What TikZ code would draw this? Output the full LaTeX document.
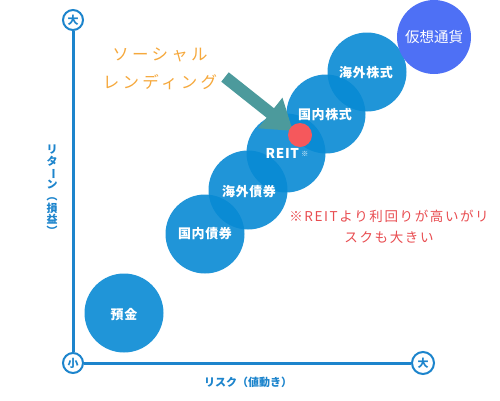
\documentclass[tikz,border=0pt]{standalone}
\usepackage{fontspec}
\setmainfont{Noto Sans CJK JP}
\usetikzlibrary{arrows.meta}
\definecolor{axisblue}{RGB}{28,132,204}
\definecolor{ballblue}{RGB}{8,138,212}
\definecolor{cryptoblue}{RGB}{78,112,245}
\definecolor{arrowteal}{RGB}{76,154,156}
\definecolor{lendorange}{RGB}{245,168,60}
\definecolor{notered}{RGB}{232,76,80}
\definecolor{dotred}{RGB}{245,88,92}
\newcommand{\vchar}[1]{\rotatebox[origin=c]{-90}{#1}}
\begin{document}
\begin{tikzpicture}[x=1pt,y=-1pt,
  ball/.style={circle, fill=ballblue, fill opacity=0.9, minimum size=79pt, inner sep=0pt},
  lbl/.style={text=white, inner sep=0pt, font=\bfseries\fontsize{13}{14}\selectfont\addfontfeature{LetterSpace=5}},
  axcirc/.style={circle, draw=axisblue, line width=2pt, fill=white, minimum size=20pt, inner sep=0pt,
    text=axisblue, font=\bfseries\fontsize{11}{12}\selectfont},
  axline/.style={draw=axisblue, line width=3pt},
  axlabel/.style={text=axisblue, inner sep=0pt, font=\bfseries\fontsize{11}{11.7}\selectfont}
]
\useasboundingbox (0,0) rectangle (500,400);

% axes
\node[axcirc] (ytop) at (73,20) {大};
\node[axcirc] (orig) at (73,363) {小};
\node[axcirc, minimum size=22pt] (xr) at (423,363) {大};
\draw[axline] (ytop) -- (orig);
\draw[axline] (orig) -- (xr);
\node[axlabel, align=center] (ylab) at (52,191) {リ\\タ\\\vchar{ー}\\ン\\\vchar{（}\\損\\益\\\vchar{）}};
\node[axlabel] (xlab) at (248,382) {リスク（値動き）};

% bubbles
\node[ball] (c1) at (124,313) {};
\node[ball] (c2) at (205,234) {};
\node[ball] (c3) at (248,190) {};
\node[ball] (c4) at (286,153) {};
\node[ball] (c5) at (326,114) {};
\node[ball] (c6) at (367,72) {};
\node[circle, fill=cryptoblue, minimum size=74pt, inner sep=0pt] (c7) at (434,37) {};

% arrow and dot
\coordinate (atail) at (225,77);
\coordinate (ahead) at (293,131);
\draw[draw=arrowteal, line width=12pt, -{Triangle[length=29pt,width=37pt]}, arrowteal] (atail) -- (ahead);
\node[circle, fill=dotred, minimum size=24pt, inner sep=0pt] (dot) at (300,135) {};

% labels
\node[lbl] (l1) at (124,315) {預金};
\node[lbl] (l2) at (205,234) {国内債券};
\node[lbl] (l3) at (249,192) {海外債券};
\node[lbl, font=\bfseries\fontsize{13.5}{14}\selectfont\addfontfeature{LetterSpace=5}] (l4) at (287,153) {REIT\,\raisebox{2pt}{\fontsize{7}{7}\selectfont ※}};
\node[lbl] (l5) at (325,115) {国内株式};
\node[lbl] (l6) at (366,73) {海外株式};
\node[text=white, inner sep=0pt, font=\fontsize{14.5}{16}\selectfont] (l7) at (434,37) {仮想通貨};

% texts
\node[text=lendorange, align=center, inner sep=0pt, font=\fontsize{16.5}{28}\selectfont\addfontfeature{LetterSpace=20}] (lend) at (160,69) {ソーシャル\\レンディング};
\node[text=notered, align=center, inner sep=0pt, font=\fontsize{13.5}{21}\selectfont\addfontfeature{LetterSpace=12}] (note) at (389,227) {※REITより利回りが高いがリ\\スクも大きい};
\end{tikzpicture}
\end{document}
